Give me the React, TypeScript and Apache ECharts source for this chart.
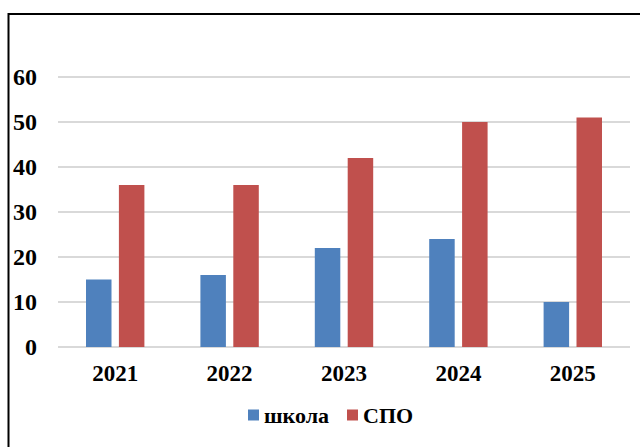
import React, { useEffect, useRef } from "react";
import * as echarts from "echarts";

const categories = ["2021", "2022", "2023", "2024", "2025"];
const schoolValues = [15, 16, 22, 24, 10];
const spoValues = [36, 36, 42, 50, 51];
const seriesNames = ["школа", "СПО"];

export default function App() {
  const ref = useRef<HTMLDivElement>(null);
  useEffect(() => {
    const chart = echarts.init(ref.current!, null, { renderer: "svg" });
    const font = "Liberation Serif";
    chart.setOption({
      animation: false,
      backgroundColor: "#ffffff",
      textStyle: { fontFamily: font },
      graphic: [
        {
          type: "rect",
          shape: { x: 8.5, y: 14, width: 700, height: 500 },
          style: { fill: "none", stroke: "#000", lineWidth: 2 },
          silent: true,
        },
      ],
      grid: { left: 58, right: 10, top: 77, bottom: 100, containLabel: false },
      legend: {
        data: seriesNames,
        top: 399,
        left: 243,
        itemWidth: 11,
        itemHeight: 11,
        itemGap: 18,
        icon: "rect",
        textStyle: { fontFamily: font, fontWeight: "bold", fontSize: 22, color: "#000" },
      },
      xAxis: {
        type: "category",
        data: categories,
        axisLine: { show: false },
        axisTick: { show: false },
        axisLabel: { fontFamily: font, fontWeight: "bold", fontSize: 23, color: "#000", margin: 15 },
      },
      yAxis: {
        type: "value",
        min: 0,
        max: 60,
        interval: 10,
        axisLine: { show: false },
        axisTick: { show: false },
        splitLine: { lineStyle: { color: "#d9d9d9", width: 2 } },
        axisLabel: { fontFamily: font, fontWeight: "bold", fontSize: 24, color: "#000", margin: 21 },
      },
      series: [
        {
          name: seriesNames[0],
          type: "bar",
          data: schoolValues,
          barWidth: 25.5,
          barGap: "29%",
          itemStyle: { color: "#4F81BD" },
        },
        {
          name: seriesNames[1],
          type: "bar",
          data: spoValues,
          barWidth: 25.5,
          itemStyle: { color: "#C0504D" },
        },
      ],
    });
    return () => chart.dispose();
  }, []);
  return <div ref={ref} style={{ width: 640, height: 447, position: "absolute", left: 0, top: 0 }} />;
}
